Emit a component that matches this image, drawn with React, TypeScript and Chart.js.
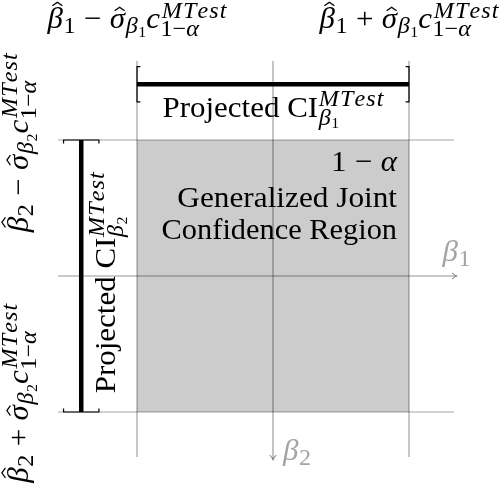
import React, { useEffect, useRef } from "react";
import { Chart, registerables } from "chart.js";

Chart.register(...registerables);

// ---------- data (β units, centred on the estimates, σ̂·c scaled to 1) ----------
const estimate = [0, 0]; // β̂1, β̂2
const halfWidth = [1, 1]; // σ̂β1·c, σ̂β2·c
const regionTitle = ["Generalized Joint", "Confidence Region"];
const axisNames = ["β", "β"];
const axisIndex = ["1", "2"];

// ---------- layout ----------
const W = 504;
const H = 484;
const X0 = 273;
const Y0 = 276;
const UNIT = 136;
const GRID_START = -1.58;
const GRID_END = 1.33;
const AXIS_END = 1.35;
const BAR_POS = -1.41;
const BRACKET_HALF = 0.13;
const TICK = 0.025;
const SIZE = 29.5;
const STRETCH = 1.05;
const FAMILY = "'Liberation Serif', 'DejaVu Serif', serif";

type Tok = { t: string; it?: boolean; hat?: boolean; op?: boolean; sup?: Tok[]; sub?: Tok[] };

const MT: Tok[] = [{ t: "MTest", it: true }];
const ONE_MINUS_ALPHA: Tok[] = [{ t: "1−" }, { t: "α", it: true }];
const beta = (i: number): Tok => ({ t: "β", it: true, sub: [{ t: String(i) }] });
const betaHat = (i: number): Tok => ({ t: "β", it: true, hat: true, sub: [{ t: String(i) }] });
const sigmaHat = (i: number): Tok => ({ t: "σ", it: true, hat: true, sub: [beta(i)] });
const boundLabel = (i: number, op: string): Tok[] => [
  betaHat(i),
  { t: op, op: true },
  sigmaHat(i),
  { t: "c", it: true, sup: MT, sub: ONE_MINUS_ALPHA },
];
const ciLabel = (i: number): Tok[] => [{ t: "Projected CI", sup: MT, sub: [beta(i)] }];
const levelLabel: Tok[] = [{ t: "1" }, { t: "−", op: true }, { t: "α", it: true }];

const font = (it: boolean | undefined, size: number) =>
  `${it ? "italic " : ""}${size}px ${FAMILY}`;

function drawRun(
  ctx: CanvasRenderingContext2D,
  toks: Tok[],
  x: number,
  y: number,
  size: number,
  level: number,
  dry: boolean
): number {
  for (const k of toks) {
    ctx.font = font(k.it, size);
    if (k.op) x += size * 0.27;
    const m = ctx.measureText(k.t);
    let w = m.width;
    if (k.it && k.t.length > 1) {
      let cx = x;
      const gap = size * 0.045;
      for (const ch of k.t) {
        if (!dry) ctx.fillText(ch, cx, y);
        cx += ctx.measureText(ch).width + gap;
      }
      w = cx - gap - x;
    } else if (!dry) {
      ctx.fillText(k.t, x, y);
    }
    if (!dry && k.hat) {
      const asc = m.actualBoundingBoxAscent;
      const cx = x + m.width / 2 + (k.it ? size * 0.07 : 0);
      const yb = y - asc - size * 0.06;
      const yt = yb - size * 0.12;
      const hw = size * 0.16;
      ctx.save();
      ctx.lineWidth = size * 0.042;
      ctx.beginPath();
      ctx.moveTo(cx - hw, yb);
      ctx.lineTo(cx, yt);
      ctx.lineTo(cx + hw, yb);
      ctx.stroke();
      ctx.restore();
    }
    let nx = x + w;
    if (k.op) nx += size * 0.27;
    if (k.sup || k.sub) {
      const ss = size * (level === 0 ? 0.78 : 0.66);
      const sx = nx + size * 0.02;
      let end = sx;
      if (k.sup) {
        end = Math.max(end, drawRun(ctx, k.sup, sx + (k.it ? size * 0.04 : 0), y - size * 0.37, ss, level + 1, dry));
      }
      if (k.sub) {
        end = Math.max(end, drawRun(ctx, k.sub, sx, y + size * (k.sup ? 0.26 : 0.16), ss, level + 1, dry));
      }
      nx = end;
    }
    x = nx;
  }
  return x;
}

function drawAligned(
  ctx: CanvasRenderingContext2D,
  toks: Tok[],
  x: number,
  y: number,
  size: number,
  align: "center" | "right" | "left",
  stretch: number = STRETCH
) {
  const w = drawRun(ctx, toks, 0, 0, size, 0, true);
  const sx = align === "center" ? -w / 2 : align === "right" ? -w : 0;
  ctx.save();
  ctx.translate(x, y);
  ctx.scale(stretch, 1);
  drawRun(ctx, toks, sx, 0, size, 0, false);
  ctx.restore();
}

const lo1 = estimate[0] - halfWidth[0];
const hi1 = estimate[0] + halfWidth[0];
const lo2 = estimate[1] - halfWidth[1];
const hi2 = estimate[1] + halfWidth[1];

const GRID_COLOR = "rgba(0,0,0,0.36)";
const AXIS_COLOR = "rgba(0,0,0,0.42)";

const seg = (pts: { x: number; y: number }[], color: string, width: number, order: number) => ({
  data: pts,
  showLine: true,
  borderColor: color,
  backgroundColor: color,
  borderWidth: width,
  pointRadius: 0,
  pointHoverRadius: 0,
  fill: false,
  tension: 0,
  order,
  borderCapStyle: "butt" as const,
});

const overlay = {
  id: "overlay",
  afterDatasetsDraw(chart: any) {
    const ctx: CanvasRenderingContext2D = chart.ctx;
    const xs = chart.scales.x;
    const ys = chart.scales.y;
    const px = (v: number) => xs.getPixelForValue(v);
    const py = (v: number) => ys.getPixelForValue(v);
    ctx.save();
    ctx.strokeStyle = AXIS_COLOR;
    ctx.lineWidth = 1.1;
    const L = 4.5;
    const A = 3.2;
    let tx = px(AXIS_END);
    let ty = py(estimate[1]);
    ctx.beginPath();
    ctx.moveTo(tx - L, ty - A);
    ctx.quadraticCurveTo(tx - L * 0.4, ty - A * 0.2, tx, ty);
    ctx.quadraticCurveTo(tx - L * 0.4, ty + A * 0.2, tx - L, ty + A);
    ctx.stroke();
    tx = px(estimate[0]);
    ty = py(AXIS_END);
    ctx.beginPath();
    ctx.moveTo(tx - A, ty - L);
    ctx.quadraticCurveTo(tx - A * 0.2, ty - L * 0.4, tx, ty);
    ctx.quadraticCurveTo(tx + A * 0.2, ty - L * 0.4, tx + A, ty - L);
    ctx.stroke();
    ctx.restore();
  },
  afterDraw(chart: any) {
    const ctx: CanvasRenderingContext2D = chart.ctx;
    const xs = chart.scales.x;
    const ys = chart.scales.y;
    const px = (v: number) => xs.getPixelForValue(v);
    const py = (v: number) => ys.getPixelForValue(v);
    ctx.save();
    ctx.textBaseline = "alphabetic";
    ctx.textAlign = "left";
    ctx.fillStyle = "#000";
    ctx.strokeStyle = "#000";

    // top labels
    drawAligned(ctx, boundLabel(1, "−"), px(lo1), py(-1.82), SIZE, "center");
    drawAligned(ctx, boundLabel(1, "+"), px(hi1), py(-1.82), SIZE, "center");
    drawAligned(ctx, ciLabel(1), px(estimate[0]), py(-1.17), SIZE, "center");

    // left rotated labels
    const rot = (toks: Tok[], x: number, y: number, align: "center" | "left") => {
      ctx.save();
      ctx.translate(x, y);
      ctx.rotate(-Math.PI / 2);
      drawAligned(ctx, toks, 0, 0, SIZE, align);
      ctx.restore();
    };
    rot(boundLabel(2, "−"), px(-1.8), py(lo2 + 0.02), "center");
    rot(boundLabel(2, "+"), px(-1.8), py(1.52), "left");
    rot(ciLabel(2), px(-1.16), py(estimate[1] + 0.05), "center");

    // region text
    drawAligned(ctx, levelLabel, px(0.912), py(-0.772), SIZE, "right");
    drawAligned(ctx, [{ t: regionTitle[0] }], px(0.912), py(-0.507), SIZE, "right", 1.06);
    drawAligned(ctx, [{ t: regionTitle[1] }], px(0.912), py(-0.272), SIZE, "right", 1.03);

    // axis names
    ctx.fillStyle = "#a4a4a4";
    drawAligned(ctx, [{ t: axisNames[0], it: true, sub: [{ t: axisIndex[0] }] }], px(1.246), py(-0.11), SIZE, "left");
    drawAligned(ctx, [{ t: axisNames[1], it: true, sub: [{ t: axisIndex[1] }] }], px(0.074), py(1.353), SIZE, "left");
    ctx.restore();
  },
};

export default function App() {
  const ref = useRef<HTMLCanvasElement | null>(null);
  useEffect(() => {
    if (!ref.current) return;
    const datasets: any[] = [
      {
        data: [
          { x: lo1, y: lo2 },
          { x: hi1, y: lo2 },
        ],
        showLine: true,
        borderWidth: 0,
        borderColor: "rgba(0,0,0,0)",
        backgroundColor: "#cccccc",
        pointRadius: 0,
        pointHoverRadius: 0,
        fill: { value: hi2 },
        order: 10,
      },
      seg([{ x: lo1, y: GRID_START }, { x: lo1, y: GRID_END }], GRID_COLOR, 1.2, 5),
      seg([{ x: hi1, y: GRID_START }, { x: hi1, y: GRID_END }], GRID_COLOR, 1.2, 5),
      seg([{ x: GRID_START, y: lo2 }, { x: GRID_END, y: lo2 }], GRID_COLOR, 1.2, 5),
      seg([{ x: GRID_START, y: hi2 }, { x: GRID_END, y: hi2 }], GRID_COLOR, 1.2, 5),
      seg([{ x: estimate[0], y: GRID_START }, { x: estimate[0], y: AXIS_END }], AXIS_COLOR, 1.1, 5),
      seg([{ x: GRID_START, y: estimate[1] }, { x: AXIS_END, y: estimate[1] }], AXIS_COLOR, 1.1, 5),
      seg([{ x: lo1, y: BAR_POS }, { x: hi1, y: BAR_POS }], "#000", 4.5, 1),
      seg([{ x: BAR_POS, y: lo2 }, { x: BAR_POS, y: hi2 }], "#000", 4.5, 1),
      seg(
        [
          { x: lo1 + TICK, y: BAR_POS - BRACKET_HALF },
          { x: lo1, y: BAR_POS - BRACKET_HALF },
          { x: lo1, y: BAR_POS + BRACKET_HALF },
          { x: lo1 + TICK, y: BAR_POS + BRACKET_HALF },
        ],
        "#000",
        1.2,
        1
      ),
      seg(
        [
          { x: hi1 - TICK, y: BAR_POS - BRACKET_HALF },
          { x: hi1, y: BAR_POS - BRACKET_HALF },
          { x: hi1, y: BAR_POS + BRACKET_HALF },
          { x: hi1 - TICK, y: BAR_POS + BRACKET_HALF },
        ],
        "#000",
        1.2,
        1
      ),
      seg(
        [
          { x: BAR_POS - BRACKET_HALF, y: lo2 + TICK },
          { x: BAR_POS - BRACKET_HALF, y: lo2 },
          { x: BAR_POS + BRACKET_HALF, y: lo2 },
          { x: BAR_POS + BRACKET_HALF, y: lo2 + TICK },
        ],
        "#000",
        1.2,
        1
      ),
      seg(
        [
          { x: BAR_POS - BRACKET_HALF, y: hi2 - TICK },
          { x: BAR_POS - BRACKET_HALF, y: hi2 },
          { x: BAR_POS + BRACKET_HALF, y: hi2 },
          { x: BAR_POS + BRACKET_HALF, y: hi2 - TICK },
        ],
        "#000",
        1.2,
        1
      ),
    ];
    const chart = new Chart(ref.current, {
      type: "scatter",
      data: { datasets },
      options: {
        animation: false,
        responsive: true,
        maintainAspectRatio: false,
        events: [],
        layout: { padding: 0, autoPadding: false },
        plugins: { legend: { display: false }, tooltip: { enabled: false } },
        scales: {
          x: { type: "linear", display: false, min: -X0 / UNIT, max: (W - X0) / UNIT },
          y: { type: "linear", display: false, reverse: true, min: -Y0 / UNIT, max: (H - Y0) / UNIT },
        },
      } as any,
      plugins: [overlay],
    });
    return () => chart.destroy();
  }, []);
  return (
    <div style={{ position: "absolute", left: 0, top: 0, width: W, height: H, background: "#fff" }}>
      <canvas ref={ref} />
    </div>
  );
}
